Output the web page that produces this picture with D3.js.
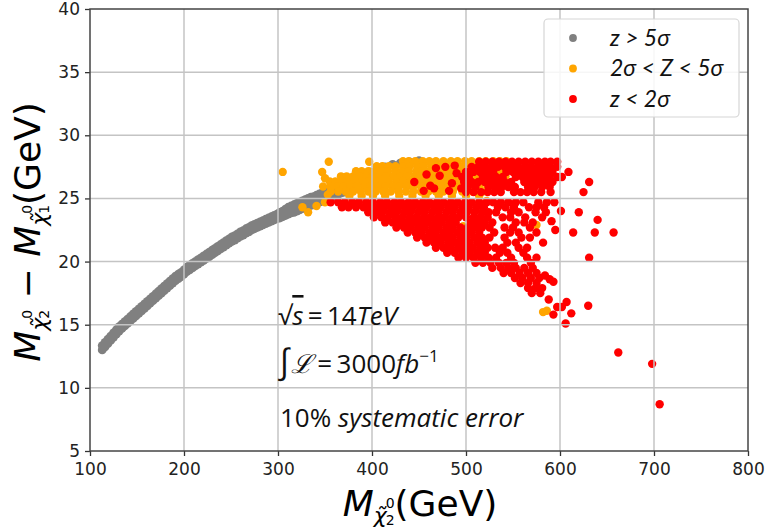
<!DOCTYPE html>
<html>
<head>
<meta charset="utf-8">
<script src="https://cdn.jsdelivr.net/npm/d3@7"></script>
<style>
  html, body { margin: 0; padding: 0; background: #fff; }
  svg { display: block; }
</style>
</head>
<body>
<svg id="chart" width="766" height="529"></svg>
<script>
// Axis ticks
const xTicks = [100, 200, 300, 400, 500, 600, 700, 800];
const yTicks = [5, 10, 15, 20, 25, 30, 35, 40];

// Legend entries
const legendLabels = ["z > 5σ", "2σ < Z < 5σ", "z < 2σ"];

// Z > 5 sigma band: [M_chi2 (GeV), lower splitting, upper splitting (GeV)]
const grayBand = [
  [113,13.0,13.35],[116,13.25,13.6],[119,13.5,13.85],[122,13.75,14.1],[125,14.0,14.35],[128,14.25,14.6],
  [131,14.5,14.85],[134,14.7,15.05],[137,14.9,15.25],[140,15.1,15.45],[143,15.3,15.65],[146,15.5,15.85],
  [149,15.7,16.05],[152,15.9,16.25],[155,16.1,16.45],[158,16.3,16.65],[161,16.5,16.85],[164,16.7,17.05],
  [167,16.9,17.25],[170,17.1,17.45],[173,17.3,17.65],[176,17.5,17.85],[179,17.7,18.05],[182,17.9,18.25],
  [185,18.1,18.45],[188,18.3,18.65],[191,18.5,18.85],[194,18.65,19.0],[197,18.8,19.15],[200,19.0,19.35],
  [203,19.2,19.55],[206,19.35,19.7],[209,19.5,19.85],[212,19.65,20.0],[215,19.8,20.15],[218,19.95,20.3],
  [221,20.1,20.45],[224,20.25,20.6],[227,20.4,20.75],[230,20.55,20.9],[233,20.7,21.05],[236,20.85,21.2],
  [239,21.0,21.35],[242,21.15,21.5],[245,21.3,21.65],[248,21.45,21.8],[251,21.6,21.95],[254,21.7,22.05],
  [257,21.85,22.2],[260,22.0,22.35],[263,22.1,22.45],[266,22.25,22.6],[269,22.35,22.7],[272,22.5,22.85],
  [275,22.6,22.95],[278,22.7,23.05],[281,22.8,23.15],[284,22.9,23.25],[287,23.0,23.35],[290,23.1,23.45],
  [293,23.2,23.55],[296,23.3,23.65],[299,23.4,23.75],[302,23.45,23.9],[305,23.55,24.0],[308,23.65,24.15],
  [311,23.75,24.3],[314,23.85,24.4],[317,23.9,24.5],[320,24.0,24.6],[323,24.1,24.7],[326,24.2,24.8],
  [329,24.25,24.9],[332,24.35,25.0],[335,24.45,25.1],[338,24.5,25.15],[341,24.6,25.25],[344,24.7,25.35],
  [347,24.8,25.45],[350,24.9,25.55],[353,25.0,25.65],[356,25.05,25.7],[359,25.15,25.8],[362,25.25,25.9],
  [365,25.35,26.0],[368,25.45,26.1],[371,25.5,26.15],[374,25.6,26.25],[377,25.7,26.35],[380,25.8,26.45]
];
// Z > 5 sigma points hidden along the upper edge of the orange region
const grayTail = [
  [384,26.2],[390,26.9],[398,27.1],[406,27.3],[414,27.5],[422,27.7],[430,27.8],[440,27.9],[450,28.0]
];

// 2 sigma < Z < 5 sigma points, listed by row: [splitting, [masses...]]
const orangeRows = [
  [27.95, [433,439,446,454,461,468,476,484,491,499,506,514,521,529,536,543]],
  [27.55, [405,411,418,425,433,440,448,455,463,470,478,485,493,500,507,515,522,530,537,546]],
  [27.15, [383,389,396,403,410,417,425,432,439,447,454,461,469,476,484,491,498,506,513,520,528,536,544]],
  [26.75, [367,373,380,387,394,401,408,415,423,430,437,445,452,460,467,474,482,489,497,504,512,519,527,535,542]],
  [26.35, [355,361,368,375,382,389,396,404,411,418,426,433,441,448,456,463,471,478,486,493,501,509,517,525,533]],
  [25.95, [348,356,363,370,377,384,392,399,407,414,422,429,437,444,452,459,467,474,482,490,498,506,514,523]],
  [25.55, [356,364,372,380,388,396,404,412,420,428,436,444,452,460,468,476,486,496,507,518]],
  [25.2,  [376,389,401,414,429,443,457,471,485,500,514]]
];
const orangeScatter = [
  [305,27.1],[347,27.1],[350,26.6],[354,27.9],[397,27.9],[326,24.3],[332,23.9],[341,24.4],
  [350,24.7],[353,25.3],[497,22.8],[507,20.6],[522,24.8],[575,22.9],[582,16.0],[586,16.1]
];

// Z < 2 sigma points, dense part listed by row: [splitting, [masses...]]
const redRows = [
  [27.9,  [514,521,528,535,542,549,556,563,570,577,584,590]],
  [27.5,  [506,513,520,527,534,541,548,555,562,569,576,583,590,597]],
  [27.1,  [500,508,515,522,529,543,550,557,564,571,578,585,592]],
  [26.7,  [496,503,518,525,532,539,553,560,567,574,581,589]],
  [26.3,  [498,506,513,520,527,534,541,548,562,569,576,584,592]],
  [25.9,  [502,510,524,531,538,545,552,566,573,581,589]],
  [25.5,  [500,508,516,523,530,537,551,558,565,572,580,590]],
  [24.7,  [356,364,371,379,386,394,401,409,416,424,431,439,446,454,461,469,476,484,491,499,506,514,522,529,537,545,553,561,577,586,594]],
  [24.3,  [368,375,383,391,398,406,413,421,428,436,443,451,458,466,473,481,488,496,503,511,519,534,542,551,567,575,583]],
  [23.9,  [396,404,411,419,426,434,441,449,456,464,471,479,486,494,501,509,517,524,532,548,556,574,585]],
  [23.5,  [402,410,417,425,432,440,447,455,462,470,477,485,492,500,508,515,523,539,547,563,581]],
  [23.1,  [414,422,429,437,444,452,459,467,474,482,489,505,512,520,528,553,562,571]],
  [22.7,  [426,434,441,449,456,464,471,479,486,494,502,509,517,525,541,550,568]],
  [22.3,  [438,446,453,461,468,476,483,491,499,506,514,530,547,556,575]],
  [21.9,  [448,456,463,471,478,486,494,501,509,517,525,541,559,568]],
  [21.5,  [458,466,473,481,489,496,504,512,520,544,553]],
  [21.1,  [468,476,484,492,500,507,515,523,531,539,556,565]],
  [20.7,  [480,488,496,504,512,520,536,544,561]],
  [20.3,  [492,500,508,516,524,532,548,565,575]],
  [19.9,  [510,518,526,535,543,551,569]],
  [19.5,  [528,537,545,553,562,571]],
  [19.1,  [540,548,557,566,575]],
  [18.7,  [552,560,569,578]],
  [18.3,  [558,566,575]],
  [17.9,  [566,574]],
  [17.5,  [570,579]]
];
// Z < 2 sigma points, sparse part
const redScatter = [
  [462,26.0],[468,27.4],[472,26.8],[478,27.5],[485,26.2],[490,27.0],[495,25.8],[482,25.6],
  [455,25.6],[488,27.6],[445,26.3],[458,26.9],[466,25.8],
  [597,27.9],[609,27.1],[597,26.7],[602,26.7],[631,26.3],[625,25.5],[601,24.0],[620,23.9],
  [640,23.3],[591,23.2],[595,22.5],[614,22.3],[637,22.3],[657,22.3],[631,20.3],[582,21.5],
  [584,18.9],[589,18.6],[593,18.4],[581,17.9],[588,17.0],[607,16.8],[597,16.4],[602,16.4],
  [630,16.5],[612,15.9],[593,15.8],[606,15.1],[662,12.8],[698,11.9],[706,8.7]
];

const fromRows = rows => rows.flatMap(([v, ms]) => ms.map(m => [m, v]));
const fromBand = band => band.flatMap(([m, lo, hi]) => [[m, lo], [m, hi]]);

const series = [
  { points: fromBand(grayBand).concat(grayTail), color: "#808080", r: 4.4 },
  { points: fromRows(orangeRows).concat(orangeScatter), color: "#ffa500", r: 4.2 },
  { points: fromRows(redRows).concat(redScatter), color: "#ff0000", r: 4.2 }
];

const svg = d3.select("#chart");
const x = d3.scaleLinear().domain([100, 800]).range([90, 748]);
const y = d3.scaleLinear().domain([5, 40]).range([451, 9]);

// scatter layers
series.forEach(s => {
  svg.append("g")
    .selectAll("circle")
    .data(s.points)
    .join("circle")
    .attr("cx", d => x(d[0]))
    .attr("cy", d => y(d[1]))
    .attr("r", s.r)
    .attr("fill", s.color);
});

// grid (drawn over the markers)
const grid = svg.append("g").attr("stroke", "#c4c4c4").attr("stroke-width", 1.5);
grid.selectAll("line.gx").data(xTicks.slice(1, -1)).join("line")
  .attr("x1", d => x(d)).attr("x2", d => x(d)).attr("y1", y(40)).attr("y2", y(5));
grid.selectAll("line.gy").data(yTicks.slice(1, -1)).join("line")
  .attr("y1", d => y(d)).attr("y2", d => y(d)).attr("x1", x(100)).attr("x2", x(800));

// axes
const tickFont = g => g.attr("font-family", "DejaVu Sans, sans-serif").attr("font-size", 17)
  .call(a => a.select(".domain").remove())
  .call(a => a.selectAll(".tick line").attr("stroke", "#333").attr("stroke-width", 1.3))
  .call(a => a.selectAll(".tick text").attr("fill", "#222"));

svg.append("g").attr("transform", `translate(0,${y(5)})`)
  .call(d3.axisBottom(x).tickValues(xTicks).tickSize(5).tickPadding(7).tickFormat(d3.format("d")))
  .call(tickFont);
svg.append("g").attr("transform", `translate(${x(100)},0)`)
  .call(d3.axisLeft(y).tickValues(yTicks).tickSize(5).tickPadding(5).tickFormat(d3.format("d")))
  .call(tickFont);

// frame
svg.append("rect")
  .attr("x", x(100)).attr("y", y(40))
  .attr("width", x(800) - x(100)).attr("height", y(5) - y(40))
  .attr("fill", "none").attr("stroke", "#444").attr("stroke-width", 1.5);

// axis titles with stacked sub/superscripts
function massLabel(t, idx) {
  t.append("tspan").attr("font-style", "italic").text("M");
  t.append("tspan").attr("font-style", "italic").attr("font-size", 22).attr("dy", 7).text("χ\u0303");
  t.append("tspan").attr("font-size", 14).attr("dy", -15).attr("dx", -1).text("0");
  t.append("tspan").attr("font-size", 14).attr("dx", -9).attr("dy", 17).text(idx);
}

const ylab = svg.append("text")
  .attr("transform", "translate(40,232) rotate(-90)")
  .attr("text-anchor", "middle")
  .attr("font-family", "DejaVu Sans, sans-serif")
  .attr("font-size", 36).attr("fill", "#000");
massLabel(ylab, "2");
ylab.append("tspan").attr("dy", -9).text(" − ");
massLabel(ylab, "1");
ylab.append("tspan").attr("dy", -9).text("(GeV)");

const xlab = svg.append("text")
  .attr("x", 420).attr("y", 516)
  .attr("text-anchor", "middle")
  .attr("font-family", "DejaVu Sans, sans-serif")
  .attr("font-size", 36).attr("fill", "#000");
massLabel(xlab, "2");
xlab.append("tspan").attr("dy", -9).text("(GeV)");

// run conditions
const note = svg.append("g").attr("font-family", "'Open Sans', sans-serif").attr("fill", "#111");
const l1 = note.append("text").attr("x", 278).attr("y", 325).attr("font-size", 26);
l1.append("tspan").text("√");
l1.append("tspan").attr("font-style", "italic").attr("text-decoration", "overline").text("s");
l1.append("tspan").text("\u2009=\u200914");
l1.append("tspan").attr("font-style", "italic").text("TeV");

const l2 = note.append("text").attr("x", 278).attr("y", 373).attr("font-size", 26);
l2.append("tspan").attr("font-size", 34).text("∫");
l2.append("tspan").attr("font-style", "italic").text("ℒ");
l2.append("tspan").text("\u2009=\u20093000");
l2.append("tspan").attr("font-style", "italic").text("fb");
l2.append("tspan").attr("font-size", 17).attr("dy", -11).text("−1");

const l3 = note.append("text").attr("x", 280).attr("y", 427).attr("font-size", 26);
l3.append("tspan").text("10% ");
l3.append("tspan").attr("font-style", "italic").text("systematic error");

// legend
const legend = svg.append("g");
legend.append("rect")
  .attr("x", 544).attr("y", 19).attr("width", 195).attr("height", 98).attr("rx", 4)
  .attr("fill", "#fff").attr("fill-opacity", 0.85)
  .attr("stroke", "#d6d6d6").attr("stroke-width", 1.2);
legendLabels.forEach((lab, i) => {
  const cy = 38 + i * 30.5;
  legend.append("circle").attr("cx", 573).attr("cy", cy).attr("r", 3.9).attr("fill", series[i].color);
  legend.append("text").attr("x", 610).attr("y", cy + 7.5)
    .attr("font-family", "Lato, sans-serif").attr("font-size", 23)
    .attr("font-style", "italic").attr("fill", "#111").text(lab);
});
</script>
</body>
</html>
